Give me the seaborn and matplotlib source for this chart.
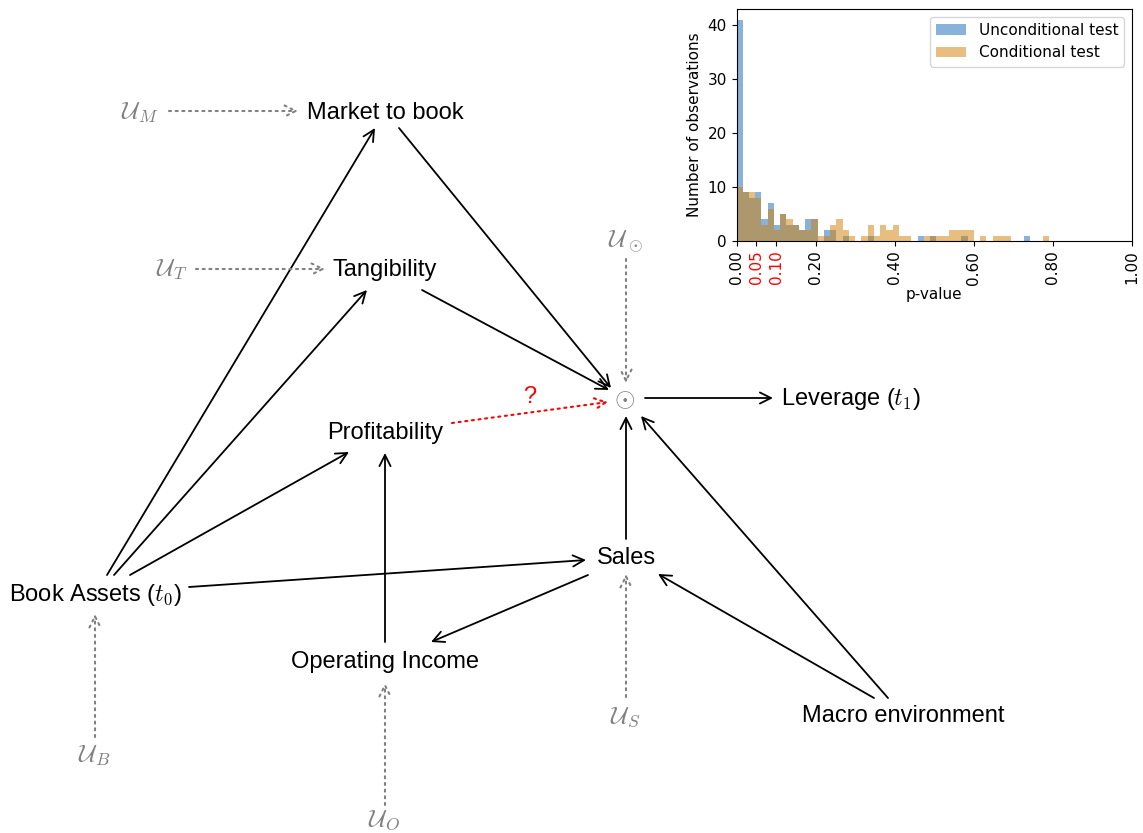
import matplotlib
matplotlib.use("Agg")
import matplotlib.pyplot as plt
from matplotlib.patches import Patch
import numpy as np
import pandas as pd
import seaborn as sns

plt.rcParams['mathtext.fontset'] = 'cm'

# histogram of p-values: counts per bin, 50 bins between 0 and 0.79
bin_edges = np.linspace(0, 0.79, 51)
uncond_counts = [41, 9, 8, 9, 4, 7, 3, 5, 3, 3, 2, 4, 4, 0, 2, 2, 0, 1, 0, 0,
                 0, 1, 0, 0, 0, 0, 0, 0, 0, 1, 0, 1, 0, 0, 0, 0, 1, 0, 0, 0,
                 0, 0, 0, 0, 0, 0, 1, 0, 0, 0]
cond_counts = [10, 9, 9, 8, 3, 6, 2, 5, 4, 3, 2, 2, 4, 1, 1, 3, 4, 2, 1, 0,
               1, 3, 1, 3, 2, 3, 1, 1, 0, 0, 1, 1, 1, 1, 2, 2, 2, 2, 0, 1,
               0, 1, 1, 1, 0, 0, 0, 0, 0, 1]
xtick_vals = [0, 0.05, 0.1, 0.2, 0.4, 0.6, 0.8, 1.0]
red_ticks = [0.05, 0.1]
series_names = ["Unconditional test", "Conditional test"]
series_colors = ["#1466b9", "#d17f00"]

# causal graph: node label -> (x, y) in pixels, measured from the top left
nodes = {
    "Market to book": (385, 119),
    "Tangibility": (385, 276),
    "Profitability": (385, 439),
    "Book Assets ($t_0$)": (95, 601),
    "Operating Income": (385, 668),
    "Sales": (626, 564),
    "Macro environment": (903, 722),
}
leverage = ("Leverage ($t_1$)", (781, 405))
noise = {
    r"$\mathcal{U}_M$": (140, 119),
    r"$\mathcal{U}_T$": (172, 276),
    r"$\mathcal{U}_\odot$": (625, 247),
    r"$\mathcal{U}_S$": (625, 723),
    r"$\mathcal{U}_B$": (94, 762),
    r"$\mathcal{U}_O$": (384, 826),
}
odot_pos = (625, 407)

# edges: (start, end, kind)
edges = [
    ((107, 575), (375, 128), "solid"),
    ((114, 575), (367, 290), "solid"),
    ((130, 575), (349, 452), "solid"),
    ((189, 587), (586, 560), "solid"),
    ((399, 128), (611, 388), "solid"),
    ((422, 290), (609, 390), "solid"),
    ((385, 642), (385, 453), "solid"),
    ((588, 575), (431, 642), "solid"),
    ((626, 539), (626, 416), "solid"),
    ((874, 698), (658, 574), "solid"),
    ((888, 698), (641, 416), "solid"),
    ((645, 398), (773, 398), "solid"),
    ((452, 423), (608, 402), "question"),
    ((169, 111), (298, 111), "noise"),
    ((196, 269), (325, 269), "noise"),
    ((626, 259), (626, 383), "noise"),
    ((626, 697), (626, 574), "noise"),
    ((95, 737), (95, 614), "noise"),
    ((385, 805), (385, 683), "noise"),
]

fig = plt.figure(figsize=(11.43, 8.33), dpi=100)

# full-figure axes for the graph, pixel coordinates
ax = fig.add_axes([0, 0, 1, 1])
ax.set_xlim(0, 1143)
ax.set_ylim(833, 0)
ax.axis('off')

for label, (x, y) in nodes.items():
    ax.text(x, y, label, ha='center', va='baseline', fontsize=17,
            family='Liberation Sans', color='black')
ax.text(leverage[1][0], leverage[1][1], leverage[0], ha='left', va='baseline',
        fontsize=17, family='Liberation Sans', color='black')
for label, (x, y) in noise.items():
    ax.text(x, y, label, ha='center', va='baseline', fontsize=18, color='gray')
ax.text(odot_pos[0], odot_pos[1], r"$\odot$", ha='center', va='baseline',
        fontsize=19, color='gray')
ax.text(530, 403, "?", ha='center', va='baseline', fontsize=17,
        family='Liberation Sans', color='red')

dots = (0, (1, 2.2))
styles = {
    "solid": dict(color='black', ls='-', lw=1.3),
    "noise": dict(color='gray', ls=dots, lw=1.5),
    "question": dict(color='red', ls=dots, lw=1.5),
}
for start, end, kind in edges:
    st = styles[kind]
    ax.annotate("", xy=end, xytext=start,
                arrowprops=dict(arrowstyle='->', color=st['color'], ls=st['ls'],
                                lw=st['lw'], mutation_scale=20, shrinkA=0, shrinkB=0))

# inset histogram
hax = fig.add_axes([736.5 / 1143, (833 - 241) / 833, 395.5 / 1143, 232 / 833])
centers = (bin_edges[:-1] + bin_edges[1:]) / 2
hist_df = pd.DataFrame({"p": centers, "uncond": uncond_counts, "cond": cond_counts})
for col, color in zip(["uncond", "cond"], series_colors):
    sns.histplot(data=hist_df, x="p", weights=col, bins=list(bin_edges), color=color,
                 alpha=0.5, linewidth=0, ax=hax)
hax.set_xlim(0, 1)
hax.set_xticks(xtick_vals)
hax.set_xticklabels(["%.2f" % v for v in xtick_vals], rotation=90, fontsize=11)
for lab, v in zip(hax.get_xticklabels(), xtick_vals):
    if v in red_ticks:
        lab.set_color('red')
hax.set_yticks([0, 10, 20, 30, 40])
hax.tick_params(axis='y', labelsize=11)
hax.set_xlabel("p-value", fontsize=11, labelpad=2)
hax.set_ylabel("Number of observations", fontsize=11)
handles = [Patch(facecolor=c, alpha=0.5, edgecolor='none') for c in series_colors]
hax.legend(handles, series_names, loc='upper right', fontsize=11)

plt.savefig("out.png", dpi=100)
